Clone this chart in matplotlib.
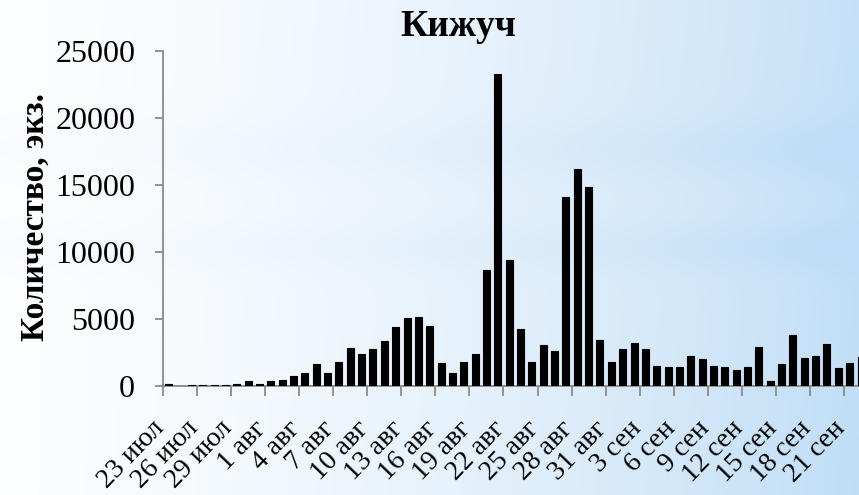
import numpy as np
import matplotlib
matplotlib.use("Agg")
import matplotlib.pyplot as plt
from matplotlib.transforms import ScaledTranslation

# ---- data ----
months = ["июл"] * 9 + ["авг"] * 31 + ["сен"] * 22
days = list(range(23, 32)) + list(range(1, 32)) + list(range(1, 23))
categories = [f"{d} {m}" for d, m in zip(days, months)]

counts = [150, 0, 80, 100, 100, 100, 120, 380, 120,
          350, 450, 770, 950, 1630, 970, 1810, 2860, 2420, 2760,
          3340, 4380, 5050, 5170, 4480, 1690, 945, 1770, 2360, 8660,
          23280, 9400, 4250, 1770, 3060, 2640, 14130, 16190, 14880, 3400,
          1790,
          2750, 3180, 2760, 1520, 1440, 1440, 2260, 1990, 1520, 1440,
          1170, 1440, 2940, 400, 1620, 3800, 2110, 2260, 3130, 1320,
          1690, 2200]

tick_labels = ["23 июл", "26 июл", "29 июл", "1 авг", "4 авг", "7 авг",
               "10 авг", "13 авг", "16 авг", "19 авг", "22 авг", "25 авг",
               "28 авг", "31 авг", "3 сен", "6 сен", "9 сен", "12 сен",
               "15 сен", "18 сен", "21 сен"]
y_ticks = [0, 5000, 10000, 15000, 20000, 25000]

title = "Кижуч"
y_label = "Количество, экз."

# ---- figure ----
W, H = 859, 495
fig = plt.figure(figsize=(W / 100, H / 100), dpi=100)

# background gradient
bg = fig.add_axes([0, 0, 1, 1], zorder=-10)
xs = np.linspace(0, 1, 400)
ys = np.linspace(0, 1, 240)
X, Y = np.meshgrid(xs, ys)
t = 0.05 + 0.85 * X ** 1.6
t += 0.10 * np.exp(-((Y - 0.30) / 0.06) ** 2) * (0.3 + X)
t += 0.10 * np.exp(-((Y - 0.50) / 0.05) ** 2) * (0.3 + X)
t += 0.08 * Y * X
t = np.clip(t, 0, 1)
white = np.array([1.0, 1.0, 1.0])
blue = np.array([0xbf, 0xdd, 0xf6]) / 255.0
img = white[None, None, :] * (1 - t[..., None]) + blue[None, None, :] * t[..., None]
bg.imshow(img, aspect="auto", extent=[0, 1, 0, 1], origin="upper")
bg.axis("off")

px_per_cat = 11.35
n = len(counts)
left_px, zero_px, top_px = 163, 386, 51
ax = fig.add_axes([left_px / W, (H - zero_px) / H,
                   n * px_per_cat / W, (zero_px - top_px) / H])
ax.patch.set_alpha(0)

x = np.arange(n)
ax.bar(x, counts, width=0.62, color="black", edgecolor="black",
       linewidth=0.8, joinstyle="round", zorder=3)

ax.set_xlim(-0.5, n - 0.5)
ax.set_ylim(0, 25000)

serif = ["Liberation Serif", "DejaVu Serif"]
gray = "#8a8a8a"
for s in ["top", "right"]:
    ax.spines[s].set_visible(False)
for s in ["left", "bottom"]:
    ax.spines[s].set_color(gray)
    ax.spines[s].set_linewidth(1.3)

ax.set_yticks(y_ticks)
ax.set_yticklabels([str(v) for v in y_ticks], fontsize=23, family=serif)
ax.tick_params(axis="y", direction="out", length=6, width=1.3, color=gray, pad=14)

# major x ticks: boundaries every 3 categories (marks only)
ax.set_xticks(np.arange(-0.5, n, 3))
ax.set_xticklabels([])
ax.tick_params(axis="x", which="major", direction="out", length=7, width=1.3, color=gray)
# minor x ticks: labels at categories
ax.set_xticks(np.arange(0, n, 3), minor=True)
ax.set_xticklabels(tick_labels, minor=True, fontsize=20, family=serif,
                   rotation=46, ha="right", va="center", rotation_mode="anchor")
ax.tick_params(axis="x", which="minor", length=0, pad=28)
offset = ScaledTranslation(-8 / 100, 0, fig.dpi_scale_trans)
for lab in ax.get_xticklabels(minor=True):
    lab.set_transform(lab.get_transform() + offset)

fig.text(458 / W, 1 - 26 / H, title, fontsize=27, fontweight="bold",
         family=serif, ha="center", va="center")
fig.text(35 / W, 1 - 217 / H, y_label, fontsize=24, fontweight="bold",
         family=serif, ha="center", va="center", rotation=90)

fig.savefig("out.png", dpi=100)
